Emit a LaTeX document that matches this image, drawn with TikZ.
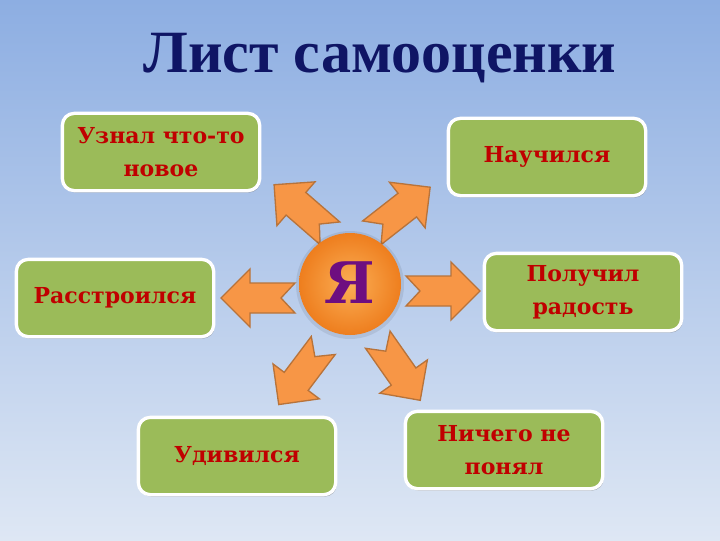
\documentclass[tikz,border=0pt]{standalone}
\usepackage{fontspec}
\setmainfont{DejaVu Serif}
\newfontfamily\titlefont{Liberation Serif}
\usetikzlibrary{shadows}
\definecolor{bgtop}{HTML}{8DAEE2}
\definecolor{bgbot}{HTML}{DEE7F4}
\definecolor{titlecol}{HTML}{0F1565}
\definecolor{boxgreen}{HTML}{9BBB59}
\definecolor{boxtext}{HTML}{C00000}
\definecolor{arrfill}{HTML}{F79646}
\definecolor{arrline}{HTML}{B8733A}
\definecolor{orin}{HTML}{FBAE55}
\definecolor{orout}{HTML}{EE7E1E}
\definecolor{yacol}{HTML}{6E0E80}
\tikzset{
  mybox/.style={draw=white, line width=2.5pt, fill=boxgreen, rounded corners=9pt,
    minimum width=148pt, minimum height=58pt, inner sep=0pt, align=center,
    text=boxtext, font=\bfseries\fontsize{16.5}{25}\selectfont,
    drop shadow={shadow xshift=0.8pt, shadow yshift=-1.5pt, fill=black!55, opacity=0.45}},
  arrsty/.style={fill=arrfill, draw=arrline, line width=1pt, line join=miter}
}
\newcommand{\blockarr}[3]{%
  \draw[arrsty, shift={(#1,#2)}, rotate=#3]
    (-37,15) -- (8,15) -- (8,29) -- (37,0) -- (8,-29) -- (8,-15) -- (-37,-15) -- (-23,0) -- cycle;}
\begin{document}
\begin{tikzpicture}[x=0.75pt,y=0.75pt]
\shade[top color=bgtop, bottom color=bgbot] (0,0) rectangle (720,540);
\useasboundingbox (0,0) rectangle (720,540);
\node[text=titlecol, font=\titlefont\bfseries\fontsize{45}{50}\selectfont] (title) at (380,482) {Лист самооценки};
% boxes
\node[mybox] (b1) at (161,388) {Узнал что-то\\новое};
\node[mybox] (b2) at (547,383) {Научился};
\node[mybox] (b3) at (115,242) {Расстроился};
\node[mybox] (b4) at (583,248) {Получил\\радость};
\node[mybox] (b5) at (237,84) {Удивился};
\node[mybox] (b6) at (504,90) {Ничего не\\понял};
% arrows
\blockarr{258}{242}{180}
\blockarr{443}{249}{0}
\blockarr{302}{331}{139}
\blockarr{401}{330}{38}
\blockarr{301}{165}{233}
\blockarr{399}{170}{305}
% center
\fill[black, opacity=0.08] (350,255) circle (54);
\shade[inner color=orin, outer color=orout] (350,256) circle (51);
\node[text=yacol, font=\bfseries\fontsize{43}{45}\selectfont] (ya) at (350,257) {Я};
\end{tikzpicture}
\end{document}
